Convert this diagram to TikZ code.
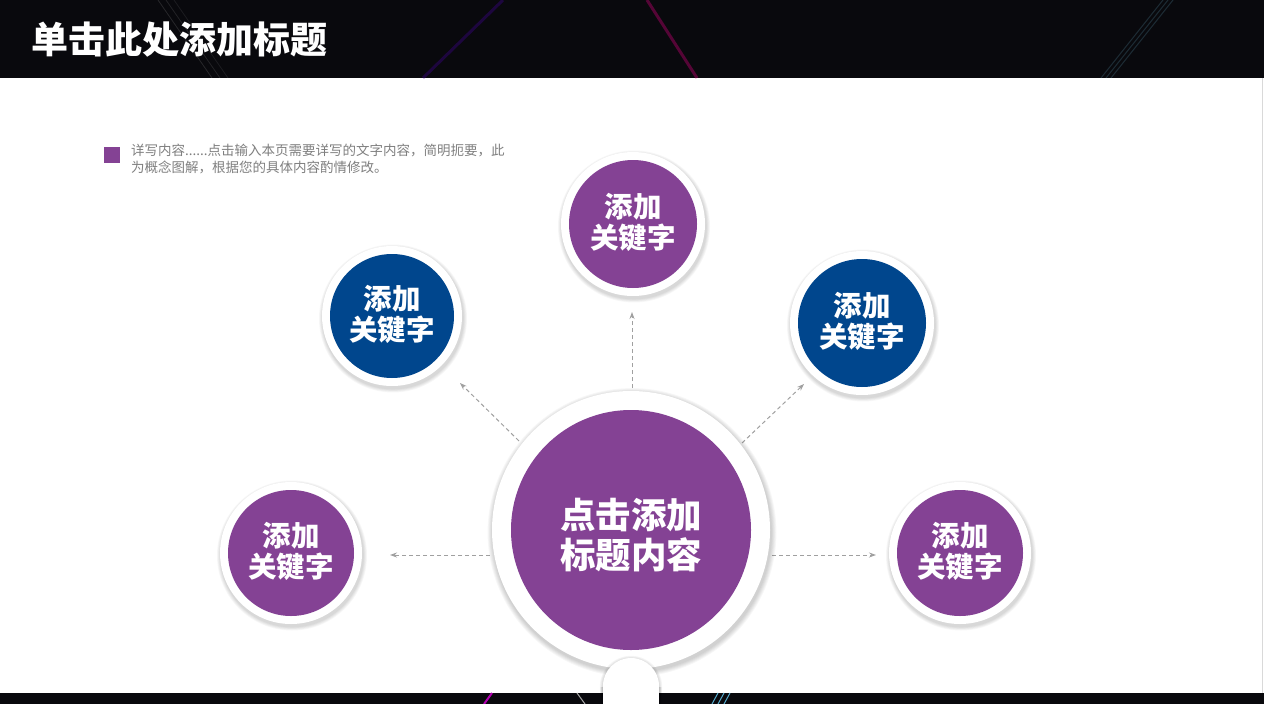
\documentclass[tikz,border=0pt]{standalone}
\usepackage{fontspec}
\newfontfamily\cjk{Noto Sans CJK SC}
\usetikzlibrary{arrows.meta}
\definecolor{pur}{RGB}{132,66,148}
\definecolor{blu}{RGB}{0,70,141}
\definecolor{bandc}{RGB}{9,9,13}
\definecolor{arrc}{RGB}{160,160,160}
\definecolor{legc}{RGB}{127,127,127}
\newcommand\mybubble[6]{%
  \foreach \k in {1,...,5} \fill[black,opacity=0.03] (#2+1,#3+2.5) circle ({(#4+\k*0.8)*1pt});
  \node[ringc,minimum size={2*#4*1pt}] (#1) at (#2,#3) {};
  \node[innerc,fill=#5,minimum size={(2*#4-16)*1pt}] (#1in) at (#2,#3) {};
  \node[txtc] (#1t) at (#2,#3-1.5) {#6};
}
\tikzset{
  ringc/.style={circle,fill=white,inner sep=0pt},
  innerc/.style={circle,inner sep=0pt},
  txtc/.style={inner sep=0pt,text=white,align=center,font=\cjk\bfseries\fontsize{28.5}{31}\selectfont},
  arr/.style={draw=arrc,line width=1pt,dash pattern=on 4pt off 3pt,-{Stealth[length=7pt,width=5pt]}},
  bgline/.style={line width=#1},
}
\begin{document}
\begin{tikzpicture}[x=1pt,y=-1pt]
\useasboundingbox (0,0) rectangle (1264,704);
\fill[white] (0,0) rectangle (1264,704);
% top band
\fill[bandc] (0,0) rectangle (1264,78);
\draw[bgline=0.8pt,white,opacity=0.12] (158,0) -- (212,78);
\draw[bgline=0.8pt,white,opacity=0.10] (166,0) -- (220,78);
\draw[bgline=0.8pt,white,opacity=0.08] (174,0) -- (228,78);
\draw[bgline=3pt,blue!60!purple,opacity=0.3] (503,0) -- (423,78);
\draw[bgline=3pt,purple!70!magenta,opacity=0.38] (647,0) -- (697,78);
\draw[bgline=1pt,cyan!50!gray,opacity=0.22] (1163,0) -- (1101,78);
\draw[bgline=1pt,cyan!50!gray,opacity=0.22] (1168,0) -- (1106,78);
\draw[bgline=1pt,cyan!50!gray,opacity=0.22] (1173,0) -- (1111,78);
% bottom band
\fill[bandc] (0,693) rectangle (1264,704);
\draw[bgline=2pt,violet!60!magenta] (492,693) -- (484,704);
\draw[bgline=1pt,gray!70] (577,693) -- (585,704);
\draw[bgline=1pt,cyan!60!gray] (718,693) -- (712,704);
\draw[bgline=1pt,cyan!60!gray] (724,693) -- (718,704);
\draw[bgline=1pt,cyan!60!gray] (730,693) -- (724,704);
\draw[gray!30,line width=1pt] (1262.5,78) -- (1262.5,693);
% title
\node[anchor=west,text=white,inner sep=0pt,font=\cjk\bfseries\fontsize{37}{40}\selectfont] (title) at (31,40) {单击此处添加标题};
% legend
\node[fill=pur,minimum size=16pt,inner sep=0pt] (sq) at (112,155) {};
\node[anchor=north west,inner sep=0pt,text=legc,align=left,font=\cjk\fontsize{13.5}{17}\selectfont] (legend) at (131,144) {详写内容......点击输入本页需要详写的文字内容，简明扼要，此\\为概念图解，根据您的具体内容酌情修改。};
% arrows end points
\coordinate (a1s) at (632,388); \coordinate (a1e) at (632,312);
\coordinate (a2s) at (519,441); \coordinate (a2e) at (460,383);
\coordinate (a3s) at (742,443); \coordinate (a3e) at (804,384);
\coordinate (a4s) at (490,555); \coordinate (a4e) at (390,555);
\coordinate (a5s) at (772,555); \coordinate (a5e) at (876,555);
\draw[arr] (a1s) -- (a1e);
\draw[arr] (a2s) -- (a2e);
\draw[arr] (a3s) -- (a3e);
\draw[arr] (a4s) -- (a4e);
\draw[arr] (a5s) -- (a5e);
% central
\foreach \k in {1,...,6} \fill[black,opacity=0.03] (632,532.5) circle ({(139+\k*0.9)*1pt});
\node[ringc,minimum size=278pt] (c) at (631,530) {};
\node[innerc,fill=pur,minimum size=240pt] (cin) at (631,530) {};
\node[txtc,font=\cjk\bfseries\fontsize{35.5}{40}\selectfont] (ct) at (631,535) {点击添加\\标题内容};
% small bottom tab
\foreach \k in {1,...,4} \fill[black,opacity=0.035] (631,687) circle ({(28+\k*0.8)*1pt});
\foreach \k in {1,...,4} \fill[black,opacity=0.035] (603-\k*0.8,687) rectangle (659+\k*0.8,704);
\node[ringc,minimum size=56pt] (tab) at (631,686) {};
\fill[white] (603,686) rectangle (659,704);
% satellites
\mybubble{s1}{633}{224}{72}{pur}{添加\\关键字}
\mybubble{s2}{392}{316}{70}{blu}{添加\\关键字}
\mybubble{s3}{862}{323}{72}{blu}{添加\\关键字}
\mybubble{s4}{291}{553}{71}{pur}{添加\\关键字}
\mybubble{s5}{960}{553}{71}{pur}{添加\\关键字}
\end{tikzpicture}
\end{document}
